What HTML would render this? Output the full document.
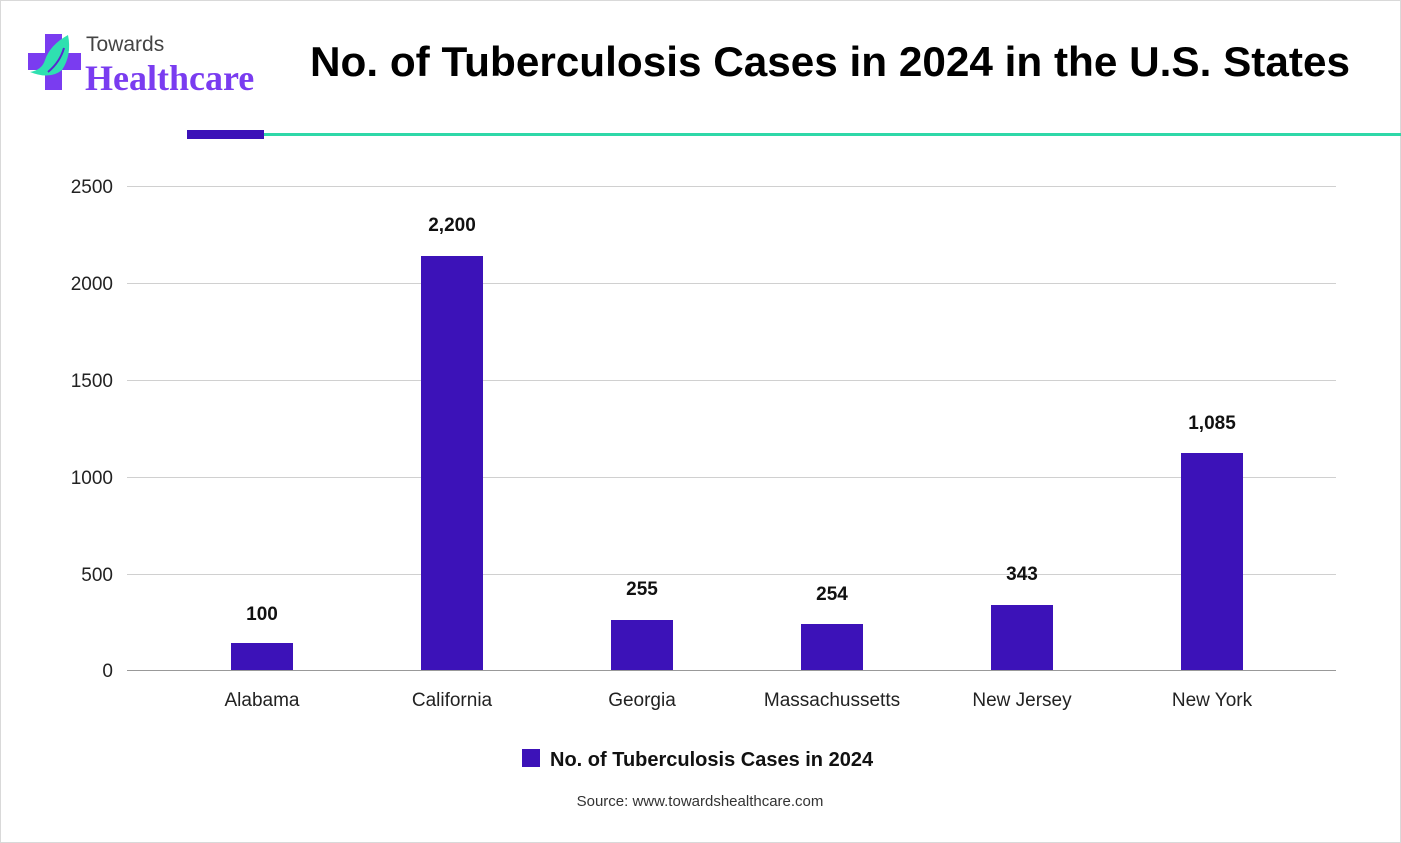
<!DOCTYPE html>
<html><head><meta charset="utf-8"><style>
body{margin:0;background:#fff}
svg{display:block;font-family:"Liberation Sans",sans-serif}
</style></head><body>
<svg width="1401" height="843" viewBox="0 0 1401 843">
<rect x="0.5" y="0.5" width="1400" height="842" fill="#fff" stroke="#d9d9d9"/>
<rect x="45" y="34" width="17" height="56" fill="#7a3cf0"/>
<rect x="28" y="53" width="53" height="17" fill="#7a3cf0"/>
<path d="M30 72 Q50 80 62 70 Q72 55 68 35 Q50 45 45 60 Q42 70 30 72Z" fill="#2fe0b0"/>
<path d="M48 72 Q60 62 64 48" stroke="#5a28d0" stroke-width="2" fill="none"/>
<text x="86" y="51" font-size="21" fill="#444">Towards</text>
<text x="85" y="90" font-size="36" font-weight="bold" fill="#7a3cf0" font-family="Liberation Serif,serif">Healthcare</text>
<text x="310" y="76" font-size="42" font-weight="bold" fill="#000" textLength="1040" lengthAdjust="spacingAndGlyphs">No. of Tuberculosis Cases in 2024 in the U.S. States</text>
<rect x="187" y="130" width="77" height="9" fill="#3c12b8"/>
<rect x="264" y="133" width="1137" height="3" fill="#2fd8a8"/>
<g stroke="#d0d0d0" stroke-width="1">
<line x1="127" y1="186.5" x2="1336" y2="186.5"/>
<line x1="127" y1="283.5" x2="1336" y2="283.5"/>
<line x1="127" y1="380.5" x2="1336" y2="380.5"/>
<line x1="127" y1="477.5" x2="1336" y2="477.5"/>
<line x1="127" y1="574.5" x2="1336" y2="574.5"/>
</g>
<line x1="127" y1="670.5" x2="1336" y2="670.5" stroke="#999"/>
<g font-size="19" fill="#222" text-anchor="end">
<text x="113" y="193">2500</text><text x="113" y="290">2000</text><text x="113" y="387">1500</text>
<text x="113" y="484">1000</text><text x="113" y="581">500</text><text x="113" y="677">0</text>
</g>
<g fill="#3c12b8">
<rect x="231" y="643" width="62" height="27"/>
<rect x="421" y="256" width="62" height="414"/>
<rect x="611" y="620" width="62" height="50"/>
<rect x="801" y="624" width="62" height="46"/>
<rect x="991" y="605" width="62" height="65"/>
<rect x="1181" y="453" width="62" height="217"/>
</g>
<g font-size="19" font-weight="bold" fill="#111" text-anchor="middle">
<text x="262" y="620">100</text><text x="452" y="231">2,200</text><text x="642" y="595">255</text>
<text x="832" y="600">254</text><text x="1022" y="580">343</text><text x="1212" y="429">1,085</text>
</g>
<g font-size="19" fill="#222" text-anchor="middle">
<text x="262" y="706">Alabama</text><text x="452" y="706">California</text><text x="642" y="706">Georgia</text>
<text x="832" y="706">Massachussetts</text><text x="1022" y="706">New Jersey</text><text x="1212" y="706">New York</text>
</g>
<rect x="522" y="749" width="18" height="18" fill="#3c12b8"/>
<text x="550" y="766" font-size="20" font-weight="bold" fill="#111">No. of Tuberculosis Cases in 2024</text>
<text x="700" y="806" font-size="15" fill="#333" text-anchor="middle">Source: www.towardshealthcare.com</text>
</svg>
</body></html>
